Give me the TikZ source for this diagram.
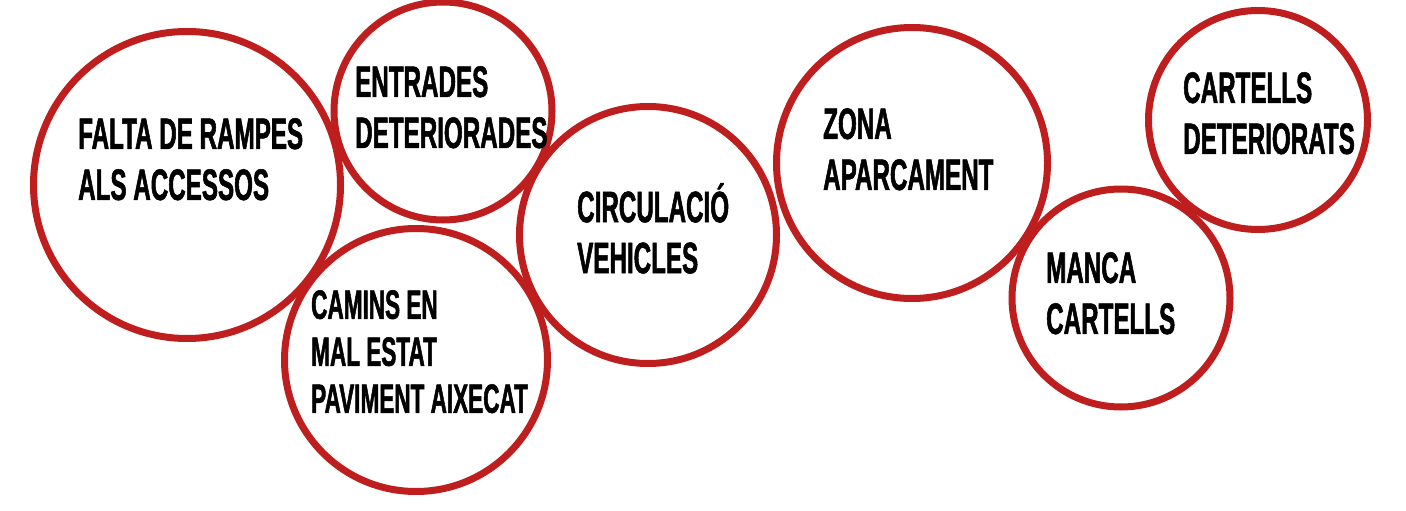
\documentclass[tikz,border=0pt]{standalone}
\usepackage{fontspec}
\setmainfont{Liberation Sans}[FakeStretch=0.55,BoldFeatures={FakeBold=1.2}]
\definecolor{ringred}{RGB}{190,30,30}
\begin{document}
\begin{tikzpicture}[x=1pt,y=-1pt,
  ring/.style={circle,draw=ringred,line width=7pt,inner sep=0pt},
  lbl/.style={anchor=north west,inner sep=0pt,align=left,font=\fontsize{44}{51}\selectfont\bfseries},
  lblsmall/.style={anchor=north west,inner sep=0pt,align=left,font=\fontsize{41}{47}\selectfont\bfseries}]
\useasboundingbox (0,0) rectangle (1406,511);
\fill[white] (0,0) rectangle (1406,511);
\node[ring,minimum size=307] (falta) at (187,185) {};
\node[ring,minimum size=218] (entrades) at (443,111) {};
\node[ring,minimum size=263] (camins) at (416,360) {};
\node[ring,minimum size=257] (circ) at (648,235) {};
\node[ring,minimum size=271] (zona) at (912,163) {};
\node[ring,minimum size=218] (manca) at (1121,298) {};
\node[ring,minimum size=219] (cartells) at (1258,120) {};
\node[lbl] (tfalta) at (78,118) {FALTA DE RAMPES\\ALS ACCESSOS};
\node[lbl] (tentrades) at (355,66) {ENTRADES\\DETERIORADES};
\node[lblsmall] (tcamins) at (311,290) {CAMINS EN\\MAL ESTAT\\PAVIMENT AIXECAT};
\node[lbl] (tcirc) at (577,183) {CIRCULACIÓ\\VEHICLES};
\node[lbl] (tzona) at (823,108) {ZONA\\APARCAMENT};
\node[lbl] (tmanca) at (1046,252) {MANCA\\CARTELLS};
\node[lbl] (tcartells) at (1183,72) {CARTELLS\\DETERIORATS};
\end{tikzpicture}
\end{document}
